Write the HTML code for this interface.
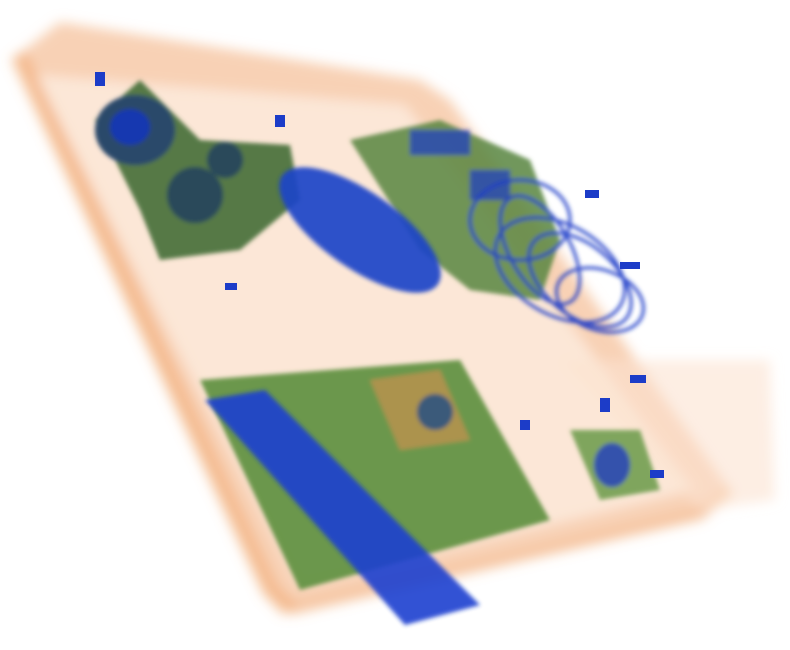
<!DOCTYPE html>
<html><head><meta charset="utf-8"><style>
html,body{margin:0;padding:0;background:#fff;}
svg{display:block}
</style></head><body>
<svg width="790" height="650" viewBox="0 0 790 650" xmlns="http://www.w3.org/2000/svg">
<defs>
<filter id="blur2"><feGaussianBlur stdDeviation="2"/></filter>
<filter id="blur6"><feGaussianBlur stdDeviation="6"/></filter>
</defs>
<rect width="790" height="650" fill="#fff"/>
<g filter="url(#blur6)">
<polygon points="18,55 60,22 420,80 450,100 730,490 700,515 290,610 270,590" fill="#f7c9a8" opacity="0.85"/>
<polygon points="35,75 405,105 695,490 300,585" fill="#fce8d9" opacity="0.95"/>
<polyline points="18,55 270,590 290,610" fill="none" stroke="#f0a060" stroke-width="16" opacity="0.6"/>
<polyline points="290,610 700,515 730,490" fill="none" stroke="#f0a060" stroke-width="10" opacity="0.5"/>
<polygon points="560,360 770,360 775,500 700,510" fill="#fbe3d0" opacity="0.6"/>
</g>
<g filter="url(#blur2)">
<polygon points="95,120 140,80 200,140 290,145 300,200 240,250 160,260 140,210" fill="#46703a" opacity="0.92"/>
<ellipse cx="135" cy="130" rx="40" ry="35" fill="#2c4a6a"/>
<ellipse cx="130" cy="127" rx="20" ry="18" fill="#1838b0"/>
<circle cx="195" cy="195" r="28" fill="#2c4a5a"/>
<circle cx="225" cy="160" r="18" fill="#2c4a5a"/>
</g>
<g filter="url(#blur2)">
<polygon points="350,140 440,120 530,160 560,240 540,300 470,290 420,250" fill="#578540" opacity="0.85"/>
<g fill="none" stroke="#1c3cc8" stroke-width="3" opacity="0.9">
<ellipse cx="560" cy="270" rx="70" ry="45" transform="rotate(30 560 270)"/>
<ellipse cx="580" cy="280" rx="60" ry="35" transform="rotate(40 580 280)"/>
<ellipse cx="520" cy="220" rx="50" ry="40"/>
<ellipse cx="600" cy="300" rx="45" ry="30" transform="rotate(20 600 300)"/>
<ellipse cx="540" cy="250" rx="60" ry="30" transform="rotate(60 540 250)"/>
</g>
<rect x="410" y="130" width="60" height="25" fill="#1c3cc8" opacity="0.7"/>
<rect x="470" y="170" width="40" height="30" fill="#1c3cc8" opacity="0.7"/>
</g>
<ellipse cx="360" cy="230" rx="95" ry="38" transform="rotate(35 360 230)" fill="#1f44c8" opacity="0.92" filter="url(#blur2)"/>
<g filter="url(#blur2)">
<polygon points="200,380 460,360 550,520 300,590" fill="#5f9040" opacity="0.92"/>
<polygon points="370,380 440,370 470,440 400,450" fill="#c89050" opacity="0.7"/>
<circle cx="435" cy="412" r="18" fill="#3a5a7a"/>
</g>
<polygon points="205,400 265,390 480,605 405,625" fill="#1a3fd0" opacity="0.9" filter="url(#blur2)"/>
<g filter="url(#blur2)">
<polygon points="570,430 640,430 660,490 600,500" fill="#6a9a48" opacity="0.85"/>
<ellipse cx="612" cy="465" rx="18" ry="22" fill="#2040c0" opacity="0.8"/>
</g>
<g fill="#1c3cc8">
<rect x="95" y="72" width="10" height="14"/>
<rect x="275" y="115" width="10" height="12"/>
<rect x="225" y="283" width="12" height="7"/>
<rect x="585" y="190" width="14" height="8"/>
<rect x="620" y="262" width="20" height="7"/>
<rect x="600" y="398" width="10" height="14"/>
<rect x="630" y="375" width="16" height="8"/>
<rect x="520" y="420" width="10" height="10"/>
<rect x="650" y="470" width="14" height="8"/>
</g>
</svg>
</body></html>
